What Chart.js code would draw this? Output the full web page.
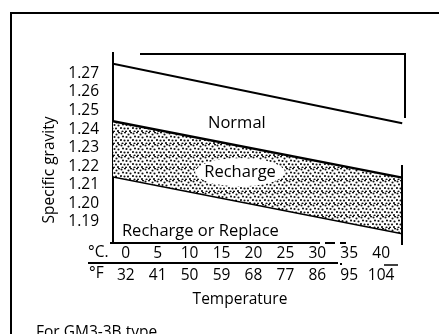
<!DOCTYPE html>
<html lang="en">
<head>
<meta charset="UTF-8" />
<title>Specific gravity vs temperature</title>
<script src="https://cdn.jsdelivr.net/npm/chart.js"></script>
<style>
    body { margin: 0; background: #fff; }
    #wrap { width: 439px; height: 334px; overflow: hidden; }
</style>
</head>
<body>
<div id="wrap"><canvas id="gravityChart" width="439" height="334"></canvas></div>
<script>
    // temperature range covered by the lines (°C) and gravity at both ends
    const tempC = [-2, 43.3];
    const normalLine = [1.2752, 1.2432];
    const rechargeTop = [1.2442, 1.2139];
    const rechargeBottom = [1.2147, 1.1841];

    const celsiusTicks = [0, 5, 10, 15, 20, 25, 30, 35, 40];
    const fahrenheitTicks = ['32', '41', '50', '59', '68', '77', '86', '95', '104'];
    const gravityTicks = [1.19, 1.20, 1.21, 1.22, 1.23, 1.24, 1.25, 1.26, 1.27];

    const FONT = "'Open Sans', sans-serif";
    const INK = '#000';

    function toPoints(ys) {
        return tempC.map((x, i) => ({ x: x, y: ys[i] }));
    }

    // stipple used for the recharge band
    function dotPattern() {
        const c = document.createElement('canvas');
        c.width = 12; c.height = 12;
        const g = c.getContext('2d');
        g.fillStyle = '#fff';
        g.fillRect(0, 0, 12, 12);
        g.fillStyle = '#111';
        const dots = [[1.5, 1.5], [5, 0.5], [8.5, 2.5], [11, 0.5], [3, 4.5], [6.5, 5], [10.5, 5.5],
                      [1, 8], [4.5, 8.5], [8, 8.5], [2.5, 11.5], [6, 11.5], [10, 11]];
        dots.forEach(d => {
            g.beginPath();
            g.arc(d[0], d[1], 1.05, 0, Math.PI * 2);
            g.fill();
        });
        return document.getElementById('gravityChart').getContext('2d').createPattern(c, 'repeat');
    }

    function line(ctx, x1, y1, x2, y2, w) {
        ctx.lineWidth = w;
        ctx.beginPath();
        ctx.moveTo(x1, y1);
        ctx.lineTo(x2, y2);
        ctx.stroke();
    }

    function text(ctx, str, x, y, align) {
        ctx.textAlign = align || 'center';
        ctx.textBaseline = 'middle';
        ctx.fillText(str, x, y);
    }

    const decor = {
        id: 'decor',
        beforeDraw(chart) {
            const ctx = chart.ctx;
            ctx.save();
            ctx.strokeStyle = INK;
            ctx.lineWidth = 2;
            ctx.beginPath();
            ctx.moveTo(11, chart.height);
            ctx.lineTo(11, 13);
            ctx.lineTo(chart.width, 13);
            ctx.stroke();
            ctx.restore();
        },
        afterDraw(chart) {
            const ctx = chart.ctx;
            const xs = chart.scales.x, ys = chart.scales.y;
            const a = chart.chartArea;
            ctx.save();
            ctx.strokeStyle = INK;
            ctx.fillStyle = INK;
            ctx.font = '15.5px ' + FONT;

            // plot frame pieces
            line(ctx, a.left + 27, a.top + 1, a.right + 2, a.top + 1, 2);
            line(ctx, a.right + 1.5, a.top, a.right + 1.5, a.top + 65, 2);
            line(ctx, a.right - 1.5, a.bottom - 78, a.right - 1.5, a.bottom + 2, 2);

            // bottom axis, broken towards the right
            line(ctx, a.left - 3, a.bottom, a.left + 207, a.bottom, 2);
            line(ctx, a.left + 212, a.bottom, a.left + 222, a.bottom, 2);
            line(ctx, a.left + 227, a.bottom, a.left + 233, a.bottom, 2);

            // rule between °C and °F rows
            line(ctx, a.left - 25, a.bottom + 20, a.left + 225, a.bottom + 20, 2);
            line(ctx, a.left + 227, a.bottom + 21, a.left + 229, a.bottom + 21, 2);
            line(ctx, a.left + 271, a.bottom + 22, a.left + 285, a.bottom + 22, 1.5);

            text(ctx, '°C.', a.left - 25, a.bottom + 10, 'left');
            text(ctx, '°F', a.left - 24, a.bottom + 31, 'left');

            // zone labels
            ctx.font = '16.5px ' + FONT;
            text(ctx, 'Normal', xs.getPixelForValue(17.4), ys.getPixelForValue(1.2432));

            const rx = xs.getPixelForValue(17.9), ry = ys.getPixelForValue(1.2168);
            const w = ctx.measureText('Recharge').width;
            ctx.fillStyle = '#fff';
            ctx.beginPath();
            ctx.ellipse(rx, ry, w / 2 + 9, 14, 0, 0, Math.PI * 2);
            ctx.fill();
            ctx.fillStyle = INK;
            text(ctx, 'Recharge', rx, ry);

            text(ctx, 'Recharge or Replace', xs.getPixelForValue(-0.6), ys.getPixelForValue(1.1852), 'left');

            // axis titles and footnote
            ctx.font = '15.5px ' + FONT;
            text(ctx, 'Temperature', 240, 300);
            text(ctx, 'For GM3-3B type', 36, 333, 'left');
            ctx.translate(50, 170);
            ctx.rotate(-Math.PI / 2);
            text(ctx, 'Specific gravity', 0, 0);
            ctx.restore();
        }
    };

    new Chart(document.getElementById('gravityChart'), {
        type: 'line',
        data: {
            datasets: [
                {
                    label: 'Normal',
                    data: toPoints(normalLine),
                    borderColor: INK,
                    borderWidth: 2,
                    fill: false
                },
                {
                    label: 'Recharge (upper)',
                    data: toPoints(rechargeTop),
                    borderColor: INK,
                    borderWidth: 2.5,
                    backgroundColor: dotPattern(),
                    fill: '+1'
                },
                {
                    label: 'Recharge (lower)',
                    data: toPoints(rechargeBottom),
                    borderColor: INK,
                    borderWidth: 3,
                    fill: false
                }
            ]
        },
        options: {
            responsive: false,
            animation: false,
            layout: { padding: { left: 0, top: 53, right: 35.5, bottom: 0 } },
            elements: { point: { radius: 0 }, line: { tension: 0 } },
            plugins: { legend: { display: false }, tooltip: { enabled: false } },
            scales: {
                x: {
                    type: 'linear',
                    min: -2,
                    max: 43.5,
                    afterBuildTicks(s) { s.ticks = celsiusTicks.map(v => ({ value: v })); },
                    afterFit(s) { s.height = 91; s.paddingLeft = 0; s.paddingRight = 0; },
                    ticks: {
                        callback: (v, i) => [String(v), fahrenheitTicks[i]],
                        font: { family: FONT, size: 15.5, lineHeight: 1.38 },
                        color: INK,
                        padding: 0,
                        maxRotation: 0,
                        autoSkip: false
                    },
                    grid: { display: false, drawTicks: false },
                    border: { display: false }
                },
                y: {
                    min: 1.1787,
                    max: 1.281,
                    afterBuildTicks(s) { s.ticks = gravityTicks.map(v => ({ value: v })); },
                    afterFit(s) { s.width = 113; s.paddingTop = 0; s.paddingBottom = 0; },
                    ticks: {
                        callback: v => v.toFixed(2),
                        font: { family: FONT, size: 15.5 },
                        color: INK,
                        padding: 6
                    },
                    grid: { display: false },
                    border: { display: true, color: INK, width: 2 }
                }
            }
        },
        plugins: [decor]
    });
</script>
</body>
</html>
